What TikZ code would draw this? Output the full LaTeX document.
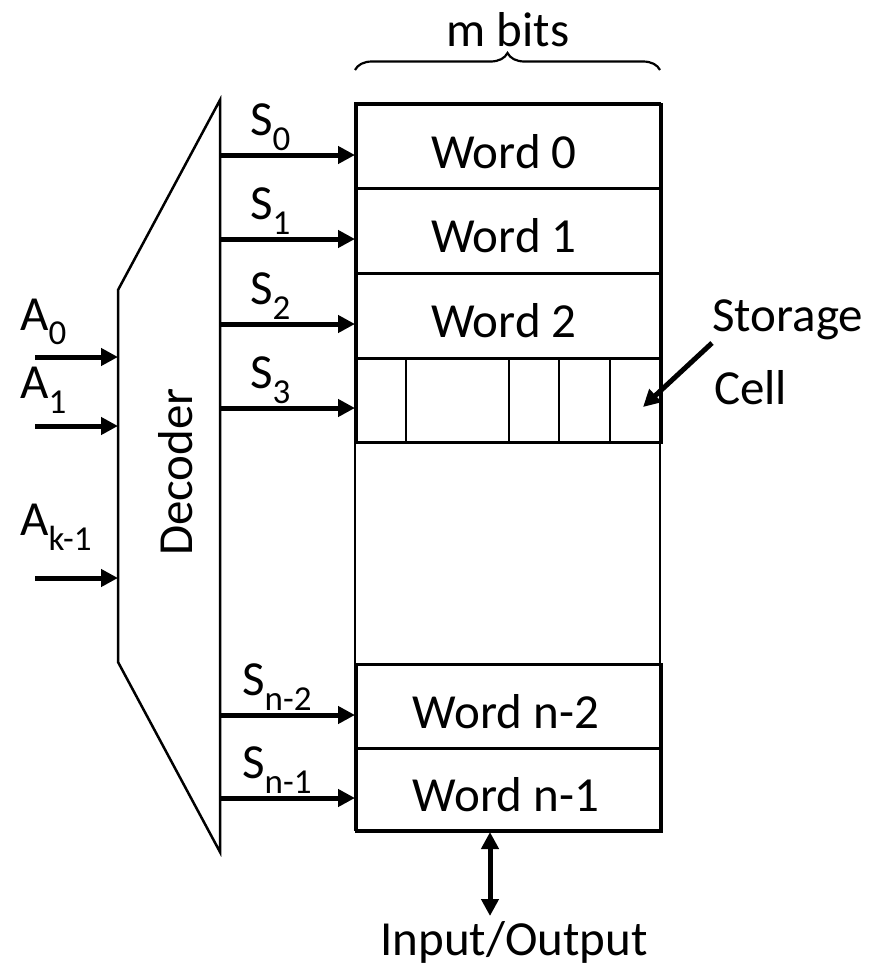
\documentclass[tikz,border=0pt]{standalone}
\usepackage{fontspec}
\setmainfont{Carlito}
\usetikzlibrary{arrows.meta,decorations.pathreplacing}
\newcommand{\sub}[1]{\raisebox{-0.3em}{\fontsize{35}{35}\selectfont #1}}
\begin{document}
\begin{tikzpicture}[x=1pt,y=-1pt,
  font=\fontsize{49}{56}\selectfont,
  box/.style={draw,line width=2.5pt},
  row/.style={draw,line width=2.5pt,minimum width=305pt,inner sep=0pt,anchor=north west},
  sig/.style={line width=5pt,-{Triangle[length=17pt,width=17pt]}},
  lbl/.style={inner sep=0pt}]
\useasboundingbox (0,0) rectangle (888,969);

% memory array outline and word rows
\draw[box] (355,103) rectangle (660,830);
\node[row,minimum height=84pt] (w0) at (355,103) {};
\node[row,minimum height=85pt] (w1) at (355,187) {};
\node[row,minimum height=85pt] (w2) at (355,272) {};
\node[row,minimum height=84pt] (w3) at (355,357) {};
\node[row,minimum height=84pt] (wn2) at (355,663) {};
\node[row,minimum height=83pt] (wn1) at (355,747) {};

\node[lbl] at (504,152) {Word 0};
\node[lbl] at (504,236) {Word 1};
\node[lbl] at (504,321) {Word 2};
\node[lbl] at (506,712) {Word n-2};
\node[lbl] at (506,795) {Word n-1};

% storage cells of the partially drawn word
\foreach \x in {406,509,559,610}
  \draw[box] (\x,357) -- (\x,441);

% decoder
\draw[box,line join=miter] (118,290) -- (220,100) -- (220,852) -- (118,662) -- cycle;
\node[lbl,rotate=90] (dec) at (176,472) {Decoder};

% address inputs
\foreach \n/\y in {a0/357,a1/426,ak/578}{
  \coordinate (\n s) at (35,\y);
  \coordinate (\n e) at (118,\y);
  \draw[sig] (\n s) -- (\n e);
}
\node[lbl,anchor=west] at (20,322) {A\sub{0}};
\node[lbl,anchor=west] at (20,390) {A\sub{1}};
\node[lbl,anchor=west] at (20,527) {A\sub{k-1}};

% select lines
\foreach \n/\r/\y in {s0/w0/155,s1/w1/239,s2/w2/324,s3/w3/408,sn2/wn2/715,sn1/wn1/798}{
  \coordinate (\n) at (220,\y);
  \draw[sig] (\n) -- (\n -| \r.west);
}
\node[lbl,anchor=west] at (250,127) {S\sub{0}};
\node[lbl,anchor=west] at (250,211) {S\sub{1}};
\node[lbl,anchor=west] at (250,296) {S\sub{2}};
\node[lbl,anchor=west] at (250,380) {S\sub{3}};
\node[lbl,anchor=west] at (242,687) {S\sub{n-2}};
\node[lbl,anchor=west] at (242,770) {S\sub{n-1}};

% word width
\coordinate (bl) at (355,70);
\coordinate (br) at (660,70);
\draw[line width=2.2pt,decorate,decoration={brace,amplitude=17pt,aspect=0.5}] (bl) -- (br);
\node[lbl] (mbits) at (508,30) {m bits};

% storage cell callout
\node[lbl,anchor=west] (stor) at (712,320) {Storage};
\node[lbl,anchor=west] (cell) at (714,388) {Cell};
\coordinate (cs) at (712,343);
\coordinate (ce) at (643,407);
\draw[sig] (cs) -- (ce);

% data port
\coordinate (io1) at (490,832);
\coordinate (io2) at (490,916);
\draw[line width=5pt,{Triangle[length=17pt,width=17pt]}-{Triangle[length=17pt,width=17pt]}] (io1) -- (io2);
\node[lbl] (io) at (514,942) {Input/Output};
\end{tikzpicture}
\end{document}
